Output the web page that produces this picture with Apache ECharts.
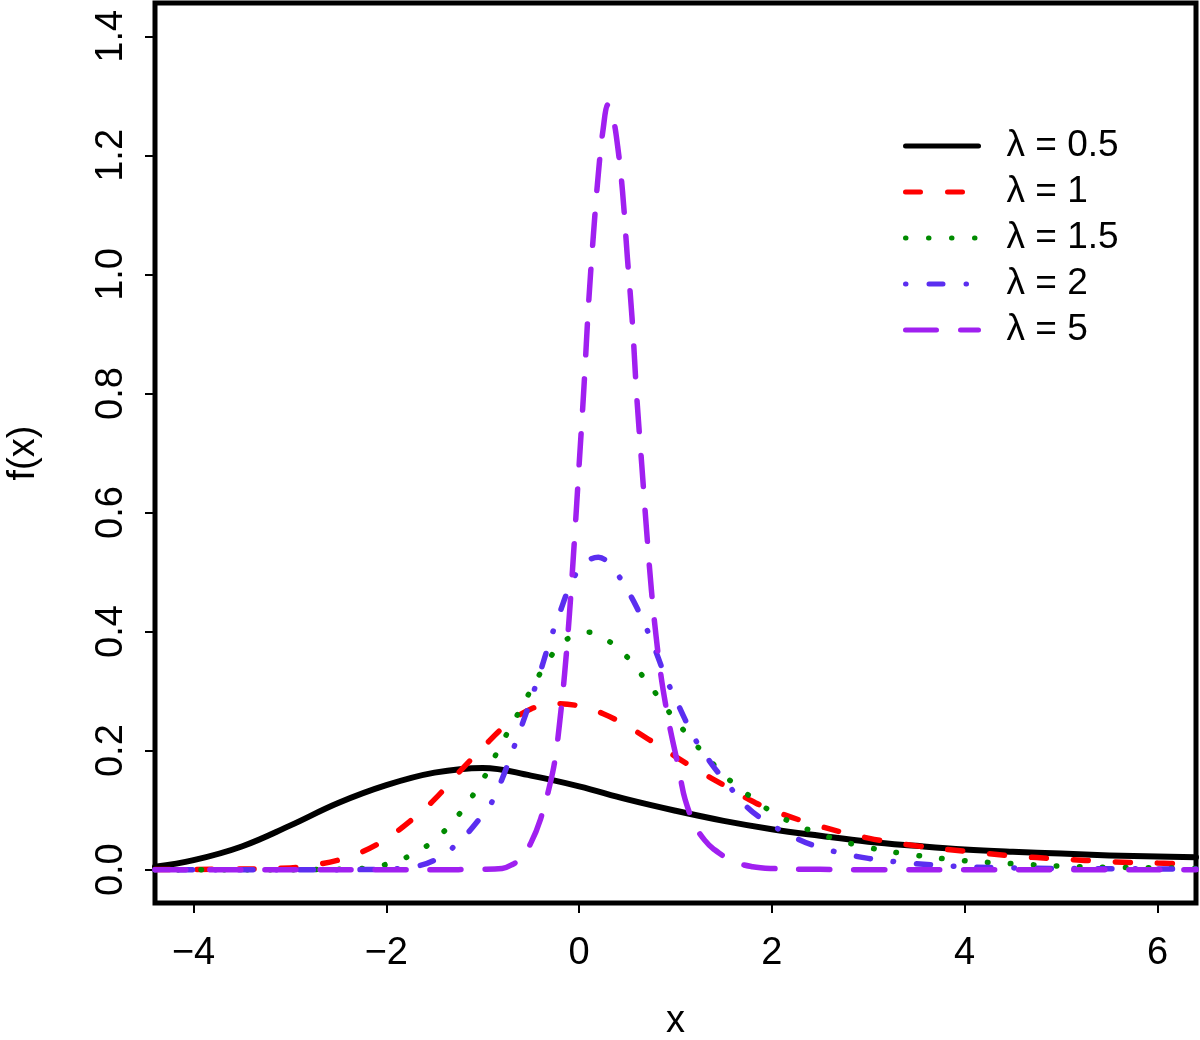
<!DOCTYPE html>
<html>
<head>
<meta charset="utf-8">
<title>f(x) for several lambda</title>
<script src="https://cdn.jsdelivr.net/npm/echarts@6/dist/echarts.min.js"></script>
<style>
  html, body { margin: 0; padding: 0; background: #fff; }
  #chart { width: 1200px; height: 1040px; }
</style>
</head>
<body>
<div id="chart"></div>
<script>
// values, one x/y pair of arrays per curve
const xBlack = [-4.4, -4, -3.5, -3, -2.5, -2, -1.5, -1, -0.5, 0, 0.5, 1, 1.5, 2, 2.5, 3, 3.5, 4, 4.5, 5, 5.5, 6, 6.4]
const yBlack = [0.005, 0.016, 0.039, 0.074, 0.112, 0.142, 0.163, 0.171, 0.158, 0.140, 0.118, 0.099, 0.082, 0.068, 0.057, 0.047, 0.040, 0.034, 0.030, 0.027, 0.024, 0.022, 0.021]

const xRed = [-4.4, -3.5, -3, -2.75, -2.5, -2.25, -2, -1.75, -1.5, -1.25, -1, -0.75, -0.5, -0.25, 0, 0.25, 0.5, 0.75, 1, 1.25, 1.5, 1.75, 2, 2.5, 3, 3.5, 4, 4.5, 5, 5.5, 6, 6.4]
const yRed = [0.0002, 0.001, 0.003, 0.008, 0.016, 0.030, 0.052, 0.082, 0.118, 0.163, 0.205, 0.244, 0.270, 0.279, 0.275, 0.262, 0.241, 0.216, 0.190, 0.165, 0.142, 0.119, 0.100, 0.073, 0.053, 0.040, 0.031, 0.023, 0.018, 0.0135, 0.011, 0.0095]

const xGreen = [-4.4, -3.5, -3, -2.5, -2.25, -2, -1.75, -1.5, -1.25, -1, -0.9, -0.8, -0.7, -0.6, -0.5, -0.4, -0.3, -0.2, -0.1, 0, 0.1, 0.2, 0.3, 0.4, 0.5, 0.6, 0.7, 0.8, 0.9, 1, 1.1, 1.2, 1.3, 1.4, 1.5, 1.75, 2, 2.25, 2.5, 2.75, 3, 3.5, 4, 4.5, 5, 5.5, 6, 6.4]
const yGreen = [0, 0, 0, 0.0005, 0.002, 0.009, 0.024, 0.050, 0.092, 0.151, 0.182, 0.213, 0.243, 0.272, 0.302, 0.331, 0.357, 0.376, 0.390, 0.397, 0.399, 0.395, 0.385, 0.372, 0.357, 0.337, 0.317, 0.295, 0.272, 0.251, 0.231, 0.212, 0.194, 0.176, 0.159, 0.126, 0.097, 0.076, 0.060, 0.047, 0.037, 0.024, 0.015, 0.010, 0.006, 0.004, 0.003, 0.002]

const xBlue = [-4.4, -3, -2.5, -2, -1.75, -1.5, -1.25, -1, -0.9, -0.8, -0.7, -0.6, -0.5, -0.4, -0.3, -0.2, -0.1, 0, 0.1, 0.2, 0.3, 0.4, 0.5, 0.6, 0.7, 0.8, 0.9, 1, 1.1, 1.2, 1.3, 1.4, 1.5, 1.75, 2, 2.25, 2.5, 2.75, 3, 3.5, 4, 4.5, 5, 6.4]
const yBlue = [0, 0, 0, 0.001, 0.004, 0.016, 0.046, 0.092, 0.115, 0.152, 0.195, 0.240, 0.286, 0.334, 0.386, 0.432, 0.475, 0.505, 0.520, 0.525, 0.516, 0.496, 0.470, 0.440, 0.405, 0.365, 0.322, 0.287, 0.252, 0.220, 0.195, 0.172, 0.152, 0.104, 0.075, 0.053, 0.037, 0.027, 0.019, 0.010, 0.005, 0.003, 0.002, 0.001]

const xPurple = [-4.4, -2, -1.5, -1, -0.8, -0.7, -0.6, -0.5, -0.4, -0.3, -0.25, -0.2, -0.15, -0.1, -0.05, 0, 0.05, 0.1, 0.15, 0.2, 0.25, 0.3, 0.35, 0.4, 0.45, 0.5, 0.55, 0.6, 0.65, 0.7, 0.75, 0.8, 0.85, 0.9, 0.95, 1, 1.05, 1.1, 1.2, 1.3, 1.4, 1.6, 1.8, 2, 2.5, 3, 4, 6.4]
const yPurple = [0, 0, 0, 0.0005, 0.002, 0.008, 0.020, 0.045, 0.085, 0.145, 0.185, 0.250, 0.330, 0.430, 0.550, 0.680, 0.810, 0.955, 1.070, 1.170, 1.245, 1.285, 1.265, 1.215, 1.140, 1.030, 0.925, 0.790, 0.680, 0.570, 0.470, 0.390, 0.325, 0.275, 0.232, 0.195, 0.155, 0.118, 0.075, 0.050, 0.034, 0.014, 0.005, 0.002, 0.0005, 0, 0, 0]

const xTicks = [-4, -2, 0, 2, 4, 6]
const yTicks = [0, 0.2, 0.4, 0.6, 0.8, 1.0, 1.2, 1.4]
const names = ['λ = 0.5', 'λ = 1', 'λ = 1.5', 'λ = 2', 'λ = 5']

const font = 'Liberation Sans, Arial, Helvetica, sans-serif'

function pairs(xs, ys) {
  return xs.map((x, i) => [x, ys[i]])
}

function curve(name, xs, ys, color, width, dash) {
  return {
    name: name,
    type: 'line',
    data: pairs(xs, ys),
    smooth: 0.4,
    symbol: 'none',
    showSymbol: false,
    lineStyle: {
      color: color,
      width: width,
      type: dash,
      cap: 'round',
      join: 'round'
    },
    itemStyle: { color: color },
    emphasis: { disabled: true }
  }
}

const myChart = echarts.init(document.getElementById('chart'))
const option = {
  animation: false,
  backgroundColor: '#fff',
  textStyle: { fontFamily: font },
  grid: {
    left: 155,
    right: 4,
    top: 3,
    bottom: 137,
    show: true,
    borderColor: '#000',
    borderWidth: 5,
    outerBoundsMode: 'none'
  },
  legend: {
    orient: 'vertical',
    left: 898,
    top: 121,
    itemWidth: 73,
    itemHeight: 40,
    itemGap: 6,
    selectedMode: false,
    itemStyle: { color: 'rgba(0,0,0,0)', borderWidth: 0, opacity: 0 },
    lineStyle: { width: 5 },
    // the text sits right on the line sample, so push it across
    textStyle: { fontSize: 37, lineHeight: 40, color: '#000', fontFamily: font, padding: [0, 0, 0, 23] },
    data: names
  },
  xAxis: {
    type: 'value',
    min: -4.4,
    max: 6.4,
    name: 'x',
    nameLocation: 'middle',
    nameGap: 100,
    nameTextStyle: { fontSize: 38, color: '#000', fontFamily: font },
    axisLine: { show: false, onZero: false },
    splitLine: { show: false },
    axisTick: {
      show: true,
      customValues: xTicks,
      length: 10,
      lineStyle: { color: '#000', width: 2 }
    },
    axisLabel: {
      customValues: xTicks,
      margin: 32,
      fontSize: 38,
      color: '#000',
      fontFamily: font,
      formatter: function(v) {
        return v < 0 ? '\u2212' + Math.abs(v) : String(v)
      }
    }
  },
  yAxis: {
    type: 'value',
    min: -0.056,
    max: 1.456,
    name: 'f(x)',
    nameLocation: 'middle',
    nameRotate: 90,
    nameGap: 112,
    nameTextStyle: { fontSize: 38, color: '#000', fontFamily: font },
    axisLine: { show: false, onZero: false },
    splitLine: { show: false },
    axisTick: {
      show: true,
      customValues: yTicks,
      length: 10,
      lineStyle: { color: '#000', width: 2 }
    },
    axisLabel: {
      customValues: yTicks,
      rotate: 90,
      margin: 24,
      fontSize: 38,
      color: '#000',
      fontFamily: font,
      formatter: function(v) {
        return v.toFixed(1)
      }
    }
  },
  series: [
    curve(names[0], xBlack, yBlack, '#000000', 6, 'solid'),
    curve(names[1], xRed, yRed, '#ff0000', 5.5, [15, 27]),
    curve(names[2], xGreen, yGreen, '#008b00', 5.5, [0.5, 22.5]),
    curve(names[3], xBlue, yBlue, '#5b2ef0', 5.5, [0.5, 23, 14, 23]),
    curve(names[4], xPurple, yPurple, '#a020f0', 5.5, [31, 24])
  ]
}
myChart.setOption(option)
</script>
</body>
</html>
